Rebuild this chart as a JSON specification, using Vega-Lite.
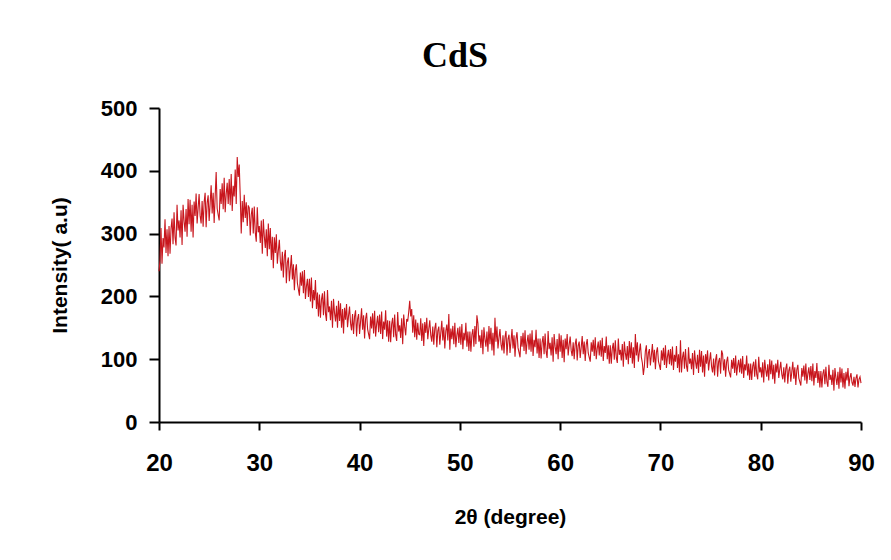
{
"$schema": "https://vega.github.io/schema/vega-lite/v6.json",
"width": 702, "height": 314,
"autosize": {"type": "none"},
"padding": {"left": 159, "top": 108, "right": 30, "bottom": 138},
"background": "white",
"title": {"text": "CdS", "font": "Liberation Serif", "fontSize": 36, "fontWeight": "bold", "color": "black", "anchor": "middle", "frame": "group", "dx": -55, "dy": 36, "offset": 30, "baseline": "alphabetic"},
"config": {"view": {"stroke": null}, "axis": {"grid": false, "domainColor": "black", "domainWidth": 2, "tickColor": "black", "tickWidth": 2, "labelColor": "black", "titleColor": "black", "labelFont": "Liberation Sans", "titleFont": "Liberation Sans", "labelFontWeight": "bold", "titleFontWeight": "bold"}},
"data": {"values": [
{"x":20.0,"y":240},{"x":20.1,"y":257},{"x":20.2,"y":309},{"x":20.3,"y":252},{"x":20.4,"y":293},{"x":20.5,"y":278},{"x":20.6,"y":323},{"x":20.7,"y":269},{"x":20.8,"y":307},{"x":20.9,"y":264},
{"x":21.0,"y":312},{"x":21.1,"y":268},{"x":21.2,"y":308},{"x":21.3,"y":324},{"x":21.4,"y":283},{"x":21.5,"y":334},{"x":21.6,"y":294},{"x":21.7,"y":281},{"x":21.8,"y":346},{"x":21.9,"y":305},
{"x":22.0,"y":321},{"x":22.1,"y":294},{"x":22.2,"y":337},{"x":22.3,"y":282},{"x":22.4,"y":346},{"x":22.5,"y":320},{"x":22.6,"y":303},{"x":22.7,"y":339},{"x":22.8,"y":295},{"x":22.9,"y":355},
{"x":23.0,"y":315},{"x":23.1,"y":354},{"x":23.2,"y":303},{"x":23.3,"y":346},{"x":23.4,"y":294},{"x":23.5,"y":351},{"x":23.6,"y":328},{"x":23.7,"y":364},{"x":23.8,"y":316},{"x":23.9,"y":341},
{"x":24.0,"y":363},{"x":24.1,"y":329},{"x":24.2,"y":316},{"x":24.3,"y":352},{"x":24.4,"y":311},{"x":24.5,"y":350},{"x":24.6,"y":365},{"x":24.7,"y":310},{"x":24.8,"y":349},{"x":24.9,"y":361},
{"x":25.0,"y":320},{"x":25.1,"y":348},{"x":25.2,"y":377},{"x":25.3,"y":332},{"x":25.4,"y":365},{"x":25.5,"y":317},{"x":25.6,"y":359},{"x":25.7,"y":398},{"x":25.8,"y":340},{"x":25.9,"y":330},
{"x":26.0,"y":321},{"x":26.1,"y":371},{"x":26.2,"y":347},{"x":26.3,"y":380},{"x":26.4,"y":339},{"x":26.5,"y":389},{"x":26.6,"y":334},{"x":26.7,"y":363},{"x":26.8,"y":381},{"x":26.9,"y":347},
{"x":27.0,"y":387},{"x":27.1,"y":345},{"x":27.2,"y":395},{"x":27.3,"y":336},{"x":27.4,"y":376},{"x":27.5,"y":359},{"x":27.6,"y":402},{"x":27.7,"y":347},{"x":27.8,"y":422},{"x":27.9,"y":390},
{"x":28.0,"y":410},{"x":28.1,"y":360},{"x":28.2,"y":300},{"x":28.3,"y":352},{"x":28.4,"y":318},{"x":28.5,"y":362},{"x":28.6,"y":325},{"x":28.7,"y":350},{"x":28.8,"y":312},{"x":28.9,"y":345},
{"x":29.0,"y":341},{"x":29.1,"y":297},{"x":29.2,"y":330},{"x":29.3,"y":341},{"x":29.4,"y":300},{"x":29.5,"y":343},{"x":29.6,"y":302},{"x":29.7,"y":287},{"x":29.8,"y":342},{"x":29.9,"y":302},
{"x":30.0,"y":312},{"x":30.1,"y":285},{"x":30.2,"y":321},{"x":30.3,"y":268},{"x":30.4,"y":323},{"x":30.5,"y":296},{"x":30.6,"y":277},{"x":30.7,"y":307},{"x":30.8,"y":264},{"x":30.9,"y":316},
{"x":31.0,"y":275},{"x":31.1,"y":309},{"x":31.2,"y":258},{"x":31.3,"y":295},{"x":31.4,"y":245},{"x":31.5,"y":294},{"x":31.6,"y":269},{"x":31.7,"y":299},{"x":31.8,"y":252},{"x":31.9,"y":273},
{"x":32.0,"y":290},{"x":32.1,"y":256},{"x":32.2,"y":241},{"x":32.3,"y":271},{"x":32.4,"y":230},{"x":32.5,"y":264},{"x":32.6,"y":274},{"x":32.7,"y":221},{"x":32.8,"y":254},{"x":32.9,"y":262},
{"x":33.0,"y":224},{"x":33.1,"y":245},{"x":33.2,"y":266},{"x":33.3,"y":227},{"x":33.4,"y":251},{"x":33.5,"y":210},{"x":33.6,"y":242},{"x":33.7,"y":251},{"x":33.8,"y":221},{"x":33.9,"y":211},
{"x":34.0,"y":201},{"x":34.1,"y":238},{"x":34.2,"y":217},{"x":34.3,"y":240},{"x":34.4,"y":205},{"x":34.5,"y":242},{"x":34.6,"y":196},{"x":34.7,"y":216},{"x":34.8,"y":228},{"x":34.9,"y":199},
{"x":35.0,"y":228},{"x":35.1,"y":192},{"x":35.2,"y":230},{"x":35.3,"y":181},{"x":35.4,"y":210},{"x":35.5,"y":194},{"x":35.6,"y":226},{"x":35.7,"y":180},{"x":35.8,"y":206},{"x":35.9,"y":168},
{"x":36.0,"y":203},{"x":36.1,"y":166},{"x":36.2,"y":195},{"x":36.3,"y":205},{"x":36.4,"y":170},{"x":36.5,"y":208},{"x":36.6,"y":173},{"x":36.7,"y":161},{"x":36.8,"y":210},{"x":36.9,"y":175},
{"x":37.0,"y":184},{"x":37.1,"y":162},{"x":37.2,"y":193},{"x":37.3,"y":150},{"x":37.4,"y":196},{"x":37.5,"y":174},{"x":37.6,"y":160},{"x":37.7,"y":185},{"x":37.8,"y":150},{"x":37.9,"y":193},
{"x":38.0,"y":161},{"x":38.1,"y":189},{"x":38.2,"y":150},{"x":38.3,"y":180},{"x":38.4,"y":141},{"x":38.5,"y":182},{"x":38.6,"y":163},{"x":38.7,"y":188},{"x":38.8,"y":151},{"x":38.9,"y":169},
{"x":39.0,"y":184},{"x":39.1,"y":157},{"x":39.2,"y":146},{"x":39.3,"y":172},{"x":39.4,"y":140},{"x":39.5,"y":168},{"x":39.6,"y":178},{"x":39.7,"y":136},{"x":39.8,"y":164},{"x":39.9,"y":172},
{"x":40.0,"y":140},{"x":40.1,"y":160},{"x":40.2,"y":181},{"x":40.3,"y":147},{"x":40.4,"y":170},{"x":40.5,"y":133},{"x":40.6,"y":164},{"x":40.7,"y":174},{"x":40.8,"y":148},{"x":40.9,"y":140},
{"x":41.0,"y":132},{"x":41.1,"y":168},{"x":41.2,"y":149},{"x":41.3,"y":173},{"x":41.4,"y":141},{"x":41.5,"y":177},{"x":41.6,"y":136},{"x":41.7,"y":156},{"x":41.8,"y":169},{"x":41.9,"y":143},
{"x":42.0,"y":171},{"x":42.1,"y":140},{"x":42.2,"y":176},{"x":42.3,"y":132},{"x":42.4,"y":160},{"x":42.5,"y":147},{"x":42.6,"y":178},{"x":42.7,"y":136},{"x":42.8,"y":162},{"x":42.9,"y":128},
{"x":43.0,"y":161},{"x":43.1,"y":127},{"x":43.2,"y":156},{"x":43.3,"y":166},{"x":43.4,"y":135},{"x":43.5,"y":171},{"x":43.6,"y":139},{"x":43.7,"y":129},{"x":43.8,"y":175},{"x":43.9,"y":144},
{"x":44.0,"y":154},{"x":44.1,"y":134},{"x":44.2,"y":165},{"x":44.3,"y":124},{"x":44.4,"y":171},{"x":44.5,"y":151},{"x":44.6,"y":138},{"x":44.7,"y":164},{"x":44.8,"y":160},{"x":44.9,"y":175},
{"x":45.0,"y":193},{"x":45.1,"y":168},{"x":45.2,"y":180},{"x":45.3,"y":142},{"x":45.4,"y":170},{"x":45.5,"y":135},{"x":45.6,"y":163},{"x":45.7,"y":131},{"x":45.8,"y":158},{"x":45.9,"y":140},
{"x":46.0,"y":139},{"x":46.1,"y":165},{"x":46.2,"y":129},{"x":46.3,"y":157},{"x":46.4,"y":121},{"x":46.5,"y":159},{"x":46.6,"y":142},{"x":46.7,"y":166},{"x":46.8,"y":132},{"x":46.9,"y":148},
{"x":47.0,"y":162},{"x":47.1,"y":138},{"x":47.2,"y":128},{"x":47.3,"y":152},{"x":47.4,"y":123},{"x":47.5,"y":149},{"x":47.6,"y":158},{"x":47.7,"y":119},{"x":47.8,"y":145},{"x":47.9,"y":152},
{"x":48.0,"y":123},{"x":48.1,"y":142},{"x":48.2,"y":161},{"x":48.3,"y":130},{"x":48.4,"y":151},{"x":48.5,"y":117},{"x":48.6,"y":145},{"x":48.7,"y":155},{"x":48.8,"y":130},{"x":48.9,"y":172},
{"x":49.0,"y":115},{"x":49.1,"y":149},{"x":49.2,"y":132},{"x":49.3,"y":153},{"x":49.4,"y":124},{"x":49.5,"y":158},{"x":49.6,"y":119},{"x":49.7,"y":138},{"x":49.8,"y":150},{"x":49.9,"y":126},
{"x":50.0,"y":152},{"x":50.1,"y":123},{"x":50.2,"y":156},{"x":50.3,"y":116},{"x":50.4,"y":142},{"x":50.5,"y":130},{"x":50.6,"y":158},{"x":50.7,"y":120},{"x":50.8,"y":144},{"x":50.9,"y":113},
{"x":51.0,"y":144},{"x":51.1,"y":112},{"x":51.2,"y":139},{"x":51.3,"y":148},{"x":51.4,"y":120},{"x":51.5,"y":153},{"x":51.6,"y":124},{"x":51.7,"y":170},{"x":51.8,"y":157},{"x":51.9,"y":128},
{"x":52.0,"y":138},{"x":52.1,"y":118},{"x":52.2,"y":147},{"x":52.3,"y":108},{"x":52.4,"y":151},{"x":52.5,"y":132},{"x":52.6,"y":120},{"x":52.7,"y":144},{"x":52.8,"y":112},{"x":52.9,"y":153},
{"x":53.0,"y":124},{"x":53.1,"y":150},{"x":53.2,"y":114},{"x":53.3,"y":142},{"x":53.4,"y":106},{"x":53.5,"y":166},{"x":53.6,"y":128},{"x":53.7,"y":152},{"x":53.8,"y":117},{"x":53.9,"y":134},
{"x":54.0,"y":148},{"x":54.1,"y":124},{"x":54.2,"y":114},{"x":54.3,"y":138},{"x":54.4,"y":109},{"x":54.5,"y":135},{"x":54.6,"y":145},{"x":54.7,"y":106},{"x":54.8,"y":132},{"x":54.9,"y":139},
{"x":55.0,"y":110},{"x":55.1,"y":129},{"x":55.2,"y":148},{"x":55.3,"y":117},{"x":55.4,"y":138},{"x":55.5,"y":104},{"x":55.6,"y":133},{"x":55.7,"y":143},{"x":55.8,"y":118},{"x":55.9,"y":111},
{"x":56.0,"y":103},{"x":56.1,"y":137},{"x":56.2,"y":120},{"x":56.3,"y":142},{"x":56.4,"y":113},{"x":56.5,"y":146},{"x":56.6,"y":108},{"x":56.7,"y":127},{"x":56.8,"y":139},{"x":56.9,"y":115},
{"x":57.0,"y":141},{"x":57.1,"y":112},{"x":57.2,"y":146},{"x":57.3,"y":105},{"x":57.4,"y":131},{"x":57.5,"y":119},{"x":57.6,"y":147},{"x":57.7,"y":109},{"x":57.8,"y":133},{"x":57.9,"y":102},
{"x":58.0,"y":133},{"x":58.1,"y":101},{"x":58.2,"y":127},{"x":58.3,"y":137},{"x":58.4,"y":108},{"x":58.5,"y":141},{"x":58.6,"y":112},{"x":58.7,"y":102},{"x":58.8,"y":145},{"x":58.9,"y":116},
{"x":59.0,"y":126},{"x":59.1,"y":106},{"x":59.2,"y":135},{"x":59.3,"y":96},{"x":59.4,"y":140},{"x":59.5,"y":120},{"x":59.6,"y":108},{"x":59.7,"y":132},{"x":59.8,"y":100},{"x":59.9,"y":141},
{"x":60.0,"y":112},{"x":60.1,"y":138},{"x":60.2,"y":102},{"x":60.3,"y":131},{"x":60.4,"y":95},{"x":60.5,"y":133},{"x":60.6,"y":116},{"x":60.7,"y":140},{"x":60.8,"y":106},{"x":60.9,"y":123},
{"x":61.0,"y":136},{"x":61.1,"y":114},{"x":61.2,"y":105},{"x":61.3,"y":127},{"x":61.4,"y":100},{"x":61.5,"y":124},{"x":61.6,"y":133},{"x":61.7,"y":98},{"x":61.8,"y":122},{"x":61.9,"y":128},
{"x":62.0,"y":102},{"x":62.1,"y":119},{"x":62.2,"y":137},{"x":62.3,"y":108},{"x":62.4,"y":128},{"x":62.5,"y":97},{"x":62.6,"y":123},{"x":62.7,"y":132},{"x":62.8,"y":110},{"x":62.9,"y":103},
{"x":63.0,"y":96},{"x":63.1,"y":127},{"x":63.2,"y":112},{"x":63.3,"y":131},{"x":63.4,"y":105},{"x":63.5,"y":135},{"x":63.6,"y":100},{"x":63.7,"y":117},{"x":63.8,"y":128},{"x":63.9,"y":106},
{"x":64.0,"y":130},{"x":64.1,"y":104},{"x":64.2,"y":134},{"x":64.3,"y":97},{"x":64.4,"y":121},{"x":64.5,"y":110},{"x":64.6,"y":136},{"x":64.7,"y":100},{"x":64.8,"y":122},{"x":64.9,"y":93},
{"x":65.0,"y":122},{"x":65.1,"y":93},{"x":65.2,"y":117},{"x":65.3,"y":126},{"x":65.4,"y":99},{"x":65.5,"y":130},{"x":65.6,"y":103},{"x":65.7,"y":94},{"x":65.8,"y":133},{"x":65.9,"y":107},
{"x":66.0,"y":115},{"x":66.1,"y":98},{"x":66.2,"y":124},{"x":66.3,"y":88},{"x":66.4,"y":128},{"x":66.5,"y":110},{"x":66.6,"y":99},{"x":66.7,"y":121},{"x":66.8,"y":92},{"x":66.9,"y":129},
{"x":67.0,"y":102},{"x":67.1,"y":127},{"x":67.2,"y":93},{"x":67.3,"y":119},{"x":67.4,"y":86},{"x":67.5,"y":140},{"x":67.6,"y":106},{"x":67.7,"y":127},{"x":67.8,"y":96},{"x":67.9,"y":112},
{"x":68.0,"y":125},{"x":68.1,"y":103},{"x":68.2,"y":94},{"x":68.3,"y":75},{"x":68.4,"y":89},{"x":68.5,"y":113},{"x":68.6,"y":122},{"x":68.7,"y":86},{"x":68.8,"y":110},{"x":68.9,"y":116},
{"x":69.0,"y":90},{"x":69.1,"y":107},{"x":69.2,"y":124},{"x":69.3,"y":95},{"x":69.4,"y":115},{"x":69.5,"y":84},{"x":69.6,"y":111},{"x":69.7,"y":119},{"x":69.8,"y":97},{"x":69.9,"y":90},
{"x":70.0,"y":83},{"x":70.1,"y":114},{"x":70.2,"y":98},{"x":70.3,"y":118},{"x":70.4,"y":91},{"x":70.5,"y":122},{"x":70.6,"y":86},{"x":70.7,"y":104},{"x":70.8,"y":115},{"x":70.9,"y":92},
{"x":71.0,"y":116},{"x":71.1,"y":90},{"x":71.2,"y":120},{"x":71.3,"y":83},{"x":71.4,"y":107},{"x":71.5,"y":96},{"x":71.6,"y":121},{"x":71.7,"y":86},{"x":71.8,"y":108},{"x":71.9,"y":79},
{"x":72.0,"y":130},{"x":72.1,"y":79},{"x":72.2,"y":103},{"x":72.3,"y":112},{"x":72.4,"y":85},{"x":72.5,"y":116},{"x":72.6,"y":89},{"x":72.7,"y":80},{"x":72.8,"y":119},{"x":72.9,"y":93},
{"x":73.0,"y":101},{"x":73.1,"y":84},{"x":73.2,"y":110},{"x":73.3,"y":75},{"x":73.4,"y":114},{"x":73.5,"y":96},{"x":73.6,"y":85},{"x":73.7,"y":107},{"x":73.8,"y":78},{"x":73.9,"y":115},
{"x":74.0,"y":88},{"x":74.1,"y":113},{"x":74.2,"y":79},{"x":74.3,"y":106},{"x":74.4,"y":72},{"x":74.5,"y":108},{"x":74.6,"y":93},{"x":74.7,"y":114},{"x":74.8,"y":82},{"x":74.9,"y":98},
{"x":75.0,"y":111},{"x":75.1,"y":88},{"x":75.2,"y":79},{"x":75.3,"y":101},{"x":75.4,"y":74},{"x":75.5,"y":99},{"x":75.6,"y":108},{"x":75.7,"y":72},{"x":75.8,"y":96},{"x":75.9,"y":102},
{"x":76.0,"y":77},{"x":76.1,"y":114},{"x":76.2,"y":108},{"x":76.3,"y":82},{"x":76.4,"y":100},{"x":76.5,"y":72},{"x":76.6,"y":96},{"x":76.7,"y":104},{"x":76.8,"y":83},{"x":76.9,"y":77},
{"x":77.0,"y":71},{"x":77.1,"y":99},{"x":77.2,"y":85},{"x":77.3,"y":102},{"x":77.4,"y":78},{"x":77.5,"y":106},{"x":77.6,"y":74},{"x":77.7,"y":90},{"x":77.8,"y":99},{"x":77.9,"y":79},
{"x":78.0,"y":101},{"x":78.1,"y":77},{"x":78.2,"y":105},{"x":78.3,"y":70},{"x":78.4,"y":92},{"x":78.5,"y":82},{"x":78.6,"y":106},{"x":78.7,"y":74},{"x":78.8,"y":93},{"x":78.9,"y":67},
{"x":79.0,"y":93},{"x":79.1,"y":67},{"x":79.2,"y":89},{"x":79.3,"y":96},{"x":79.4,"y":72},{"x":79.5,"y":100},{"x":79.6,"y":76},{"x":79.7,"y":68},{"x":79.8,"y":104},{"x":79.9,"y":79},
{"x":80.0,"y":87},{"x":80.1,"y":71},{"x":80.2,"y":95},{"x":80.3,"y":63},{"x":80.4,"y":99},{"x":80.5,"y":83},{"x":80.6,"y":72},{"x":80.7,"y":92},{"x":80.8,"y":66},{"x":80.9,"y":100},
{"x":81.0,"y":76},{"x":81.1,"y":98},{"x":81.2,"y":68},{"x":81.3,"y":91},{"x":81.4,"y":61},{"x":81.5,"y":93},{"x":81.6,"y":79},{"x":81.7,"y":99},{"x":81.8,"y":70},{"x":81.9,"y":84},
{"x":82.0,"y":96},{"x":82.1,"y":76},{"x":82.2,"y":68},{"x":82.3,"y":87},{"x":82.4,"y":63},{"x":82.5,"y":85},{"x":82.6,"y":93},{"x":82.7,"y":61},{"x":82.8,"y":82},{"x":82.9,"y":88},
{"x":83.0,"y":64},{"x":83.1,"y":80},{"x":83.2,"y":96},{"x":83.3,"y":69},{"x":83.4,"y":87},{"x":83.5,"y":59},{"x":83.6,"y":83},{"x":83.7,"y":91},{"x":83.8,"y":70},{"x":83.9,"y":64},
{"x":84.0,"y":58},{"x":84.1,"y":86},{"x":84.2,"y":72},{"x":84.3,"y":90},{"x":84.4,"y":66},{"x":84.5,"y":93},{"x":84.6,"y":61},{"x":84.7,"y":77},{"x":84.8,"y":87},{"x":84.9,"y":67},
{"x":85.0,"y":89},{"x":85.1,"y":65},{"x":85.2,"y":93},{"x":85.3,"y":58},{"x":85.4,"y":81},{"x":85.5,"y":70},{"x":85.6,"y":94},{"x":85.7,"y":62},{"x":85.8,"y":81},{"x":85.9,"y":55},
{"x":86.0,"y":81},{"x":86.1,"y":55},{"x":86.2,"y":77},{"x":86.3,"y":84},{"x":86.4,"y":60},{"x":86.5,"y":88},{"x":86.6,"y":64},{"x":86.7,"y":56},{"x":86.8,"y":91},{"x":86.9,"y":67},
{"x":87.0,"y":75},{"x":87.1,"y":59},{"x":87.2,"y":83},{"x":87.3,"y":50},{"x":87.4,"y":86},{"x":87.5,"y":70},{"x":87.6,"y":59},{"x":87.7,"y":80},{"x":87.8,"y":53},{"x":87.9,"y":87},
{"x":88.0,"y":63},{"x":88.1,"y":85},{"x":88.2,"y":55},{"x":88.3,"y":78},{"x":88.4,"y":53},{"x":88.5,"y":80},{"x":88.6,"y":66},{"x":88.7,"y":86},{"x":88.8,"y":57},{"x":88.9,"y":71},
{"x":89.0,"y":78},{"x":89.1,"y":63},{"x":89.2,"y":58},{"x":89.3,"y":72},{"x":89.4,"y":56},{"x":89.5,"y":70},{"x":89.6,"y":76},{"x":89.7,"y":55},{"x":89.8,"y":68},{"x":89.9,"y":72},
{"x":90.0,"y":62}
]},
"mark": {"type": "line", "color": "#c8161d", "strokeWidth": 1.1},
"encoding": {
"x": {"field": "x", "type": "quantitative", "scale": {"domain": [20, 90], "nice": false, "zero": false}, "axis": {"values": [20, 30, 40, 50, 60, 70, 80, 90], "title": "2θ (degree)", "tickSize": 8, "labelPadding": 21, "labelFontSize": 24, "titleFontSize": 21, "titlePadding": 31, "labelFlush": false}},
"y": {"field": "y", "type": "quantitative", "scale": {"domain": [0, 500], "nice": false}, "axis": {"values": [0, 100, 200, 300, 400, 500], "title": "Intensity( a.u)", "tickSize": 10, "labelPadding": 12, "labelFontSize": 22, "titleFontSize": 21, "titlePadding": 30}}
}
}
